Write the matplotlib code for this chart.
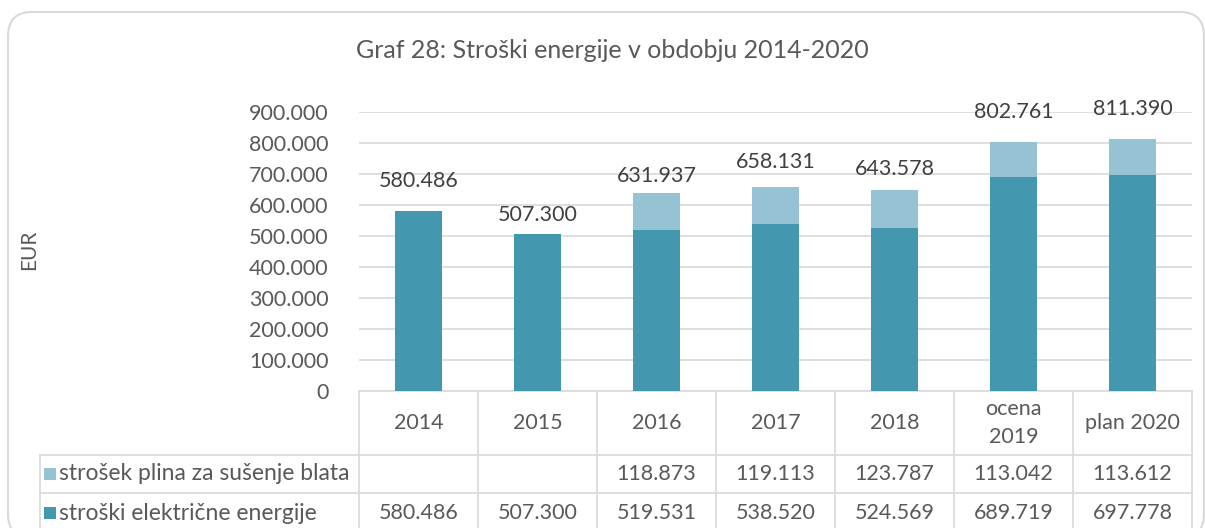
import matplotlib.pyplot as plt
from matplotlib.patches import FancyBboxPatch, Rectangle
from matplotlib.ticker import FuncFormatter

plt.rcParams["font.family"] = ["Lato", "DejaVu Sans"]

categories = ["2014", "2015", "2016", "2017", "2018", "ocena\n2019", "plan 2020"]
electricity = [580486, 507300, 519531, 538520, 524569, 689719, 697778]
gas = [0, 0, 118873, 119113, 123787, 113042, 113612]
gas_text = ["", "", "118.873", "119.113", "123.787", "113.042", "113.612"]
total_labels = ["580.486", "507.300", "631.937", "658.131", "643.578", "802.761", "811.390"]

series_names = ["strošek plina za sušenje blata", "stroški električne energije"]

DARK = "#4397AF"
LIGHT = "#95C3D4"
GRID = "#D9D9D9"
TXT = "#595959"

W, H = 1205, 528
# plot area in pixels
PX_L, PX_R, PX_T, PX_B = 359, 1192, 112, 391
# table rows (pixels)
ROW_HDR_B, ROW1_B, ROW2_C = 455, 493, 513
LBL_L = 40

# label gap above each bar, in pixels
label_gap = [30, 19, 17, 25, 21, 30, 30]


def thousands(v):
    return f"{int(v):,}".replace(",", ".")


fig = plt.figure(figsize=(W / 100, H / 100), dpi=100)

# background layer in pixel coordinates: frame, table, legend keys
bg = fig.add_axes([0, 0, 1, 1])
bg.set_xlim(0, W)
bg.set_ylim(H, 0)
bg.axis("off")

frame = FancyBboxPatch((8, 12), 1196, 526, boxstyle="round,pad=0,rounding_size=24",
                       fc="white", ec="#D9D9D9", lw=1.5, clip_on=True)
bg.add_patch(frame)

ax = fig.add_axes([PX_L / W, 1 - PX_B / H, (PX_R - PX_L) / W, (PX_B - PX_T) / H])
ax.patch.set_visible(False)

x = list(range(len(categories)))
ax.bar(x, electricity, width=0.39, color=DARK, zorder=3)
ax.bar(x, gas, width=0.39, bottom=electricity, color=LIGHT, zorder=3)

ax.set_xlim(-0.5, len(categories) - 0.5)
ax.set_ylim(0, 900000)
ax.set_yticks(range(0, 900001, 100000))
ax.yaxis.set_major_formatter(FuncFormatter(lambda v, _: thousands(v)))
ax.tick_params(axis="y", length=0, pad=22, labelsize=15.5, labelcolor=TXT)
ax.set_xticks([])
ax.grid(axis="y", color=GRID, lw=1.2, zorder=0)
for s in ax.spines.values():
    s.set_visible(False)

# total labels above the bars
for i, (e, g) in enumerate(zip(electricity, gas)):
    ax.annotate(total_labels[i], (i, e + g), xytext=(0, label_gap[i] * 0.72),
                textcoords="offset points", ha="center", va="center",
                fontsize=15.5, color="#404040")

fig.text(29 / W, 1 - 250 / H, "EUR", rotation=90, ha="center", va="center",
         fontsize=15, color=TXT)
fig.text(612 / W, 1 - 51 / H, "Graf 28: Stroški energije v obdobju 2014-2020",
         ha="center", va="center", fontsize=18, color=TXT)

# data table under the chart
colw = (PX_R - PX_L) / len(categories)
lk = dict(color=GRID, lw=1.2)
bg.plot([PX_L, PX_R], [PX_B, PX_B], **lk)
bg.plot([LBL_L, PX_R], [ROW_HDR_B, ROW_HDR_B], **lk)
bg.plot([LBL_L, PX_R], [ROW1_B, ROW1_B], **lk)
bg.plot([LBL_L, LBL_L], [ROW_HDR_B, H], **lk)
for i in range(len(categories) + 1):
    xc = PX_L + i * colw
    bg.plot([xc, xc], [PX_B, H], **lk)

for i, cat in enumerate(categories):
    xc = PX_L + (i + 0.5) * colw
    bg.text(xc, (PX_B + ROW_HDR_B) / 2, cat, ha="center", va="center",
            fontsize=15.5, color=TXT, linespacing=1.45)
    bg.text(xc, (ROW_HDR_B + ROW1_B) / 2, gas_text[i], ha="center", va="center",
            fontsize=15.5, color=TXT)
    bg.text(xc, ROW2_C, thousands(electricity[i]),
            ha="center", va="center", fontsize=15.5, color=TXT)

for name, col, yc in zip(series_names, [LIGHT, DARK],
                         [(ROW_HDR_B + ROW1_B) / 2, ROW2_C]):
    bg.add_patch(Rectangle((44, yc - 6), 12, 12, fc=col, ec="none"))
    bg.text(59, yc, name, ha="left", va="center", fontsize=16.5, color=TXT)

fig.savefig("out.png", dpi=100)
